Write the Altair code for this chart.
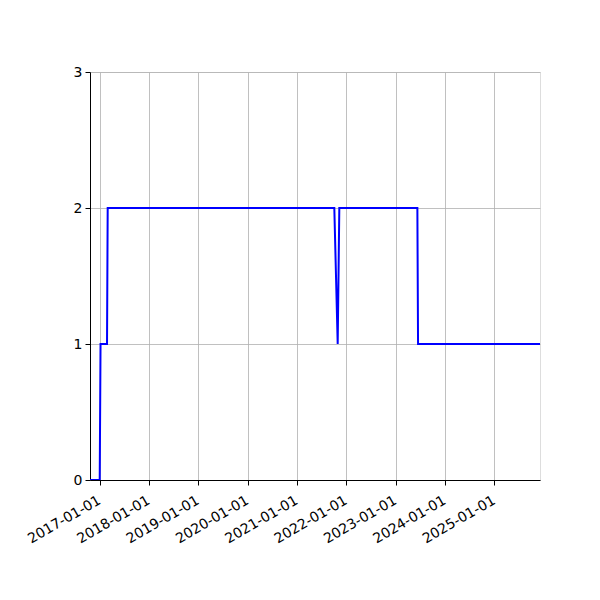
import altair as alt
import pandas as pd

dates = ["2016-10-21", "2017-01-01", "2017-01-07", "2017-02-24", "2017-03-01",
         "2021-10-04", "2021-10-29", "2021-11-10", "2023-06-11", "2023-06-16",
         "2025-12-05"]
values = [0, 0, 1, 1, 2, 2, 1, 2, 2, 1, 1]
tick_years = [2017, 2018, 2019, 2020, 2021, 2022, 2023, 2024, 2025]
y_ticks = [0, 1, 2, 3]

df = pd.DataFrame({"date": dates, "value": values})

x_axis = alt.Axis(
    values=[alt.DateTime(year=y, month=1, date=1, utc=True) for y in tick_years],
    format="%Y-%m-%d", labelAngle=-30, labelAlign="right", labelBaseline="top",
    title=None, grid=True, gridColor="#b0b0b0", gridWidth=0.8,
    domainColor="black", tickColor="black", tickSize=5, labelFontSize=14,
    labelColor="black", labelFont="DejaVu Sans", labelPadding=8, labelOffset=-4,
    labelOverlap=False,
)
y_axis = alt.Axis(
    values=y_ticks, title=None, grid=True, gridColor="#b0b0b0", gridWidth=0.8,
    domainColor="black", tickColor="black", tickSize=5, labelFontSize=14,
    labelColor="black", labelFont="DejaVu Sans", labelPadding=3, format="d",
)

chart = alt.Chart(df).mark_line(color="#0000ff", strokeWidth=2, clip=True).encode(
    x=alt.X("date:T", axis=x_axis, scale=alt.Scale(
        type="utc",
        domain=[alt.DateTime(year=2016, month=10, date=21, utc=True),
                alt.DateTime(year=2025, month=12, date=5, utc=True)])),
    y=alt.Y("value:Q", axis=y_axis, scale=alt.Scale(domain=[0, 3], nice=False)),
).properties(
    width=450, height=408,
    autosize=alt.AutoSizeParams(type="none"),
    padding={"left": 82, "top": 64, "right": 52, "bottom": 112},
).configure_view(stroke="black", strokeWidth=1).configure(background="white")

chart.save("out.html", embed_options={"renderer": "svg", "actions": False})
